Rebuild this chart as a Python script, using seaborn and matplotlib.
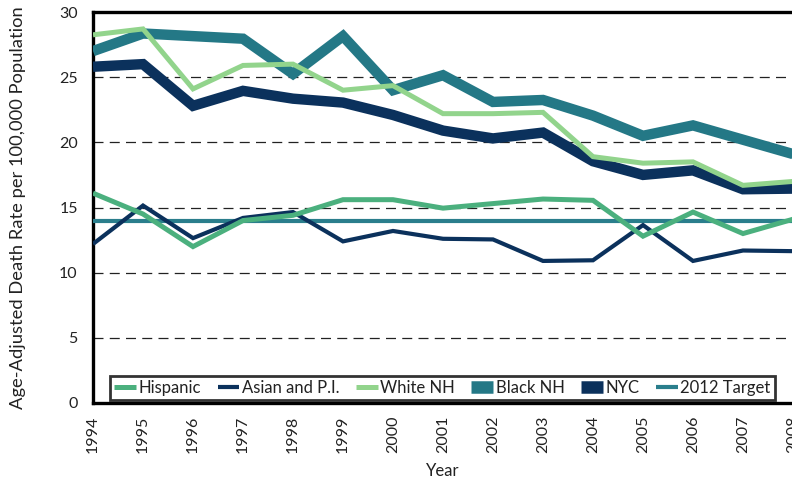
import matplotlib
matplotlib.use("Agg")
import matplotlib.pyplot as plt
import seaborn as sns
import pandas as pd
from matplotlib.lines import Line2D

years = list(range(1994, 2009))

hispanic = [16.1, 14.5, 12.0, 14.0, 14.4, 15.6, 15.6, 14.95, 15.3, 15.65, 15.55, 12.8, 14.65, 13.0, 14.1]
asian_pi = [12.2, 15.15, 12.65, 14.2, 14.65, 12.4, 13.2, 12.6, 12.55, 10.9, 10.95, 13.65, 10.9, 11.7, 11.65]
white_nh = [28.25, 28.7, 24.1, 25.9, 26.0, 24.0, 24.35, 22.2, 22.2, 22.3, 18.9, 18.4, 18.5, 16.7, 17.0]
black_nh = [27.0, 28.35, 28.15, 27.95, 25.25, 28.15, 24.0, 25.15, 23.1, 23.25, 22.05, 20.5, 21.3, 20.2, 19.1]
nyc = [25.8, 26.0, 22.8, 23.95, 23.35, 23.05, 22.1, 20.9, 20.3, 20.75, 18.55, 17.5, 17.85, 16.4, 16.45]
target_2012 = [14.0] * len(years)

series_names = ["Hispanic", "Asian and P.I.", "White NH", "Black NH", "NYC", "2012 Target"]
y_ticks = [0, 5, 10, 15, 20, 25, 30]

df = pd.DataFrame({
    "Year": years * 6,
    "Rate": hispanic + asian_pi + white_nh + black_nh + nyc + target_2012,
    "Group": sum([[n] * len(years) for n in series_names], []),
})

colors = {
    "Hispanic": "#4BB07E",
    "Asian and P.I.": "#0B315C",
    "White NH": "#92D48C",
    "Black NH": "#247886",
    "NYC": "#0B315C",
    "2012 Target": "#2A7E8C",
}
widths = {
    "Hispanic": 3.6,
    "Asian and P.I.": 3.0,
    "White NH": 3.6,
    "Black NH": 7.5,
    "NYC": 7.5,
    "2012 Target": 3.0,
}
draw_order = ["2012 Target", "Black NH", "NYC", "Asian and P.I.", "Hispanic", "White NH"]

sns.set_theme(style="white")
plt.rcParams["font.family"] = ["Lato", "DejaVu Sans"]

fig = plt.figure(figsize=(7.92, 4.8), dpi=100)
ax = fig.add_axes([93 / 792, 1 - 403 / 480, 700 / 792, 391 / 480])

for name in draw_order:
    sub = df[df["Group"] == name]
    sns.lineplot(data=sub, x="Year", y="Rate", ax=ax, color=colors[name],
                 linewidth=widths[name], solid_joinstyle="miter",
                 solid_capstyle="butt", legend=False, zorder=3)

ax.set_xlim(1994, 2008)
ax.set_ylim(0, 30)
ax.set_yticks(y_ticks)
ax.set_xticks(years)
ax.set_xticklabels([str(y) for y in years], rotation=90, fontsize=11.5)
ax.set_yticklabels([str(t) for t in y_ticks], fontsize=11.5)
ax.tick_params(axis="y", length=0, pad=11, colors="#222222")
ax.tick_params(axis="x", length=0, pad=9, colors="#222222")

for t in y_ticks[1:-1]:
    ax.axhline(t, color="#222222", linewidth=0.9, dashes=(8, 5), zorder=1)

for side in ["left", "top", "bottom"]:
    ax.spines[side].set_visible(True)
    ax.spines[side].set_color("black")
    ax.spines[side].set_linewidth(2.4)
ax.spines["right"].set_visible(False)

ax.set_xlabel("Year", fontsize=12, color="#222222", labelpad=7)
ax.set_ylabel("Age-Adjusted Death Rate per 100,000 Population", fontsize=13.2,
              color="#222222", labelpad=24)

handles = [Line2D([0], [0], color=colors[n], linewidth=widths[n] if widths[n] < 5 else 9,
                  solid_capstyle="butt") for n in series_names]
leg = fig.legend(handles, series_names, loc="lower left",
                 bbox_to_anchor=(110 / 792, 80 / 480), ncol=6, frameon=True,
                 fontsize=12, handlelength=1.3, handletextpad=0.15,
                 columnspacing=1.0, borderpad=0.25, borderaxespad=0,
                 fancybox=False)
leg.get_frame().set_edgecolor("black")
leg.get_frame().set_linewidth(2.0)
for txt in leg.get_texts():
    txt.set_color("#222222")

fig.savefig("out.png", dpi=100)
